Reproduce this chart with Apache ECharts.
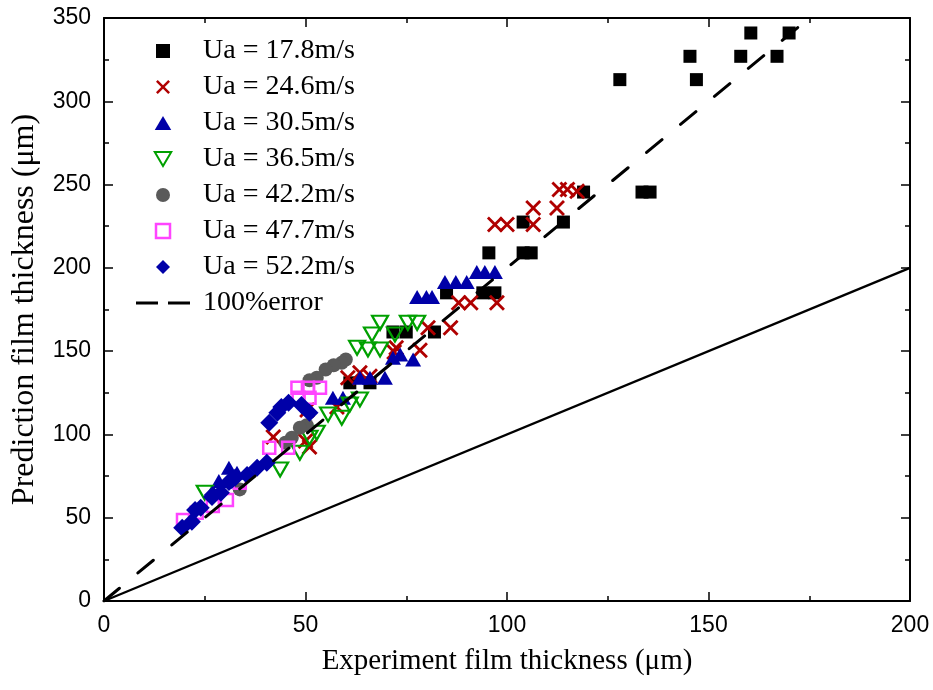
<!DOCTYPE html>
<html>
<head>
<meta charset="utf-8">
<script src="https://cdn.jsdelivr.net/npm/echarts@6/dist/echarts.min.js"></script>
<style>
  html, body { margin: 0; padding: 0; background: #fff; }
  #myChart { width: 933px; height: 690px; }
</style>
</head>
<body>
<div id="myChart"></div>
<script type="text/javascript">
// 数据 [experiment, prediction]
var ua178 = [[170,341],[160.5,341],[145.4,327],[158,327],[167,327],[128,313],[147,313],[119,245.5],[133.5,245.5],[135.5,245.5],[104,227.5],[114,227.5],[95.5,209],[104,209],[106,209],[85,185],[94,185],[97,185],[82,161.5],[75,161.5],[71.7,161.5],[61,131],[66,131]];
var ua246 = [[115,247],[117.4,246],[113,247],[112.4,236],[106.5,236],[97,226],[100,226],[106.5,226],[88,179],[91,179],[97.5,179],[86,164],[80.4,164],[78.4,150.6],[72.5,152],[72,149.5],[60.5,134],[63.5,137],[66,135],[57.8,116.5],[50.4,114.6],[50,96],[42,98.5],[51,92.5]];
var ua305 = [[92.5,197.5],[94.5,197.5],[97,197.5],[84.6,191.5],[87.3,191.5],[90,191.5],[77.7,182.5],[80,182.5],[81.4,182.5],[71.7,146],[73.5,148],[76.7,145],[63.5,134],[66,134],[69.7,134],[56.8,122],[59.3,122],[31,80],[33,77],[28.5,72]];
var ua365 = [[68.5,167],[75.4,167],[77.7,167],[66.5,160],[72.2,160],[62.8,152],[65.5,151],[68.5,151],[63.5,121],[61,118],[55.6,112],[59,110],[52.8,101],[51,98],[48.6,89],[43.7,79],[25,65]];
var ua422 = [[60,145],[59,143],[57,141.5],[55,139],[52.8,134],[51,132.5],[50.3,105.5],[48.6,104],[46.6,98],[45,95],[33.7,67]];
var ua477 = [[48,128],[50.6,128],[53.6,128],[48.3,122],[51,122],[41,92],[45.7,92],[33.7,71],[30.5,60.6],[23,53],[19.6,48.6],[27,57]];
var ua522 = [[41,107],[43,113],[44,116.5],[45.8,119],[49,117.6],[51,113],[40.4,83],[38,80],[35.5,75.6],[32.5,74],[31,71.5],[27,63.6],[29,65],[31.7,72.6],[26.8,62.4],[22.6,54.6],[21.8,47.6],[19.4,44],[24,56]];
var errLine = [[0,0],[175,350]];   // 100% error
var equalLine = [[0,0],[200,200]]; // y = x

var names = ['Ua = 17.8m/s','Ua = 24.6m/s','Ua = 30.5m/s','Ua = 36.5m/s','Ua = 42.2m/s','Ua = 47.7m/s','Ua = 52.2m/s','100%error'];

// 图例和散点用的路径符号
var crossPath = 'path://M0,2.5 L2.5,0 L10,7.5 L17.5,0 L20,2.5 L12.5,10 L20,17.5 L17.5,20 L10,12.5 L2.5,20 L0,17.5 L7.5,10 Z';
var downTri = 'path://M0,0 L20,0 L10,17 Z';
var upTri = 'path://M10,0 L20,17 L0,17 Z';
var squarePath = 'path://M0,0h10v10h-10z';
var circlePath = 'path://M10,0 A10,10 0 1,1 9.99,0 Z';
var diamondPath = 'path://M10,0 L20,10 L10,20 L0,10 Z';
var dashIcon = 'path://M0,0h22v3h-22z M32,0h22v3h-22z';

var myChart = echarts.init(document.getElementById('myChart'));

function boxAxis(pos, max, interval) {
	return {
		type: 'value', position: pos, min: 0, max: max, interval: interval,
		axisLine: { show: true, onZero: false, lineStyle: { color: '#000', width: 2 } },
		axisTick: { show: true, inside: true, length: 9, lineStyle: { color: '#000', width: 1.5 } },
		minorTick: { show: true, splitNumber: 2, length: 5, lineStyle: { color: '#000', width: 1.5 } },
		axisLabel: { show: false },
		splitLine: { show: false }
	};
}

var labelStyle = { color: '#000', fontFamily: 'Liberation Sans', fontSize: 23 };

var xMain = boxAxis('bottom', 200, 50);
xMain.axisLabel = Object.assign({ show: true, margin: 13 }, labelStyle);
xMain.name = 'Experiment film thickness (\u03bcm)';
xMain.nameLocation = 'middle';
xMain.nameGap = 46;
xMain.nameTextStyle = { color: '#000', fontFamily: 'Liberation Serif', fontSize: 29 };

var yMain = boxAxis('left', 350, 50);
yMain.axisLabel = Object.assign({ show: true, margin: 13 }, labelStyle);
yMain.name = 'Prediction film thickness (\u03bcm)';
yMain.nameLocation = 'middle';
yMain.nameGap = 63;
yMain.nameTextStyle = { color: '#000', fontFamily: 'Liberation Serif', fontSize: 32 };

var xTop = boxAxis('top', 200, 50);
var yRight = boxAxis('right', 350, 50);

var option = {
	backgroundColor: '#fff',
	animation: false,
	grid: { left: 104, right: 23, top: 18, bottom: 89, containLabel: false },
	xAxis: [xMain, xTop],
	yAxis: [yMain, yRight],
	legend: {
		orient: 'vertical',
		left: 131, top: 32,
		itemWidth: 54, itemHeight: 14, itemGap: 8, symbolKeepAspect: true,
		textStyle: { color: '#000', fontFamily: 'Liberation Serif', fontSize: 28, lineHeight: 28, padding: [0, 0, 0, 8] },
		data: [
			{ name: names[0], icon: squarePath },
			{ name: names[1], icon: crossPath },
			{ name: names[2], icon: upTri },
			{ name: names[3], icon: downTri, itemStyle: { color: '#fff', borderColor: '#00a000', borderWidth: 2 } },
			{ name: names[4], icon: circlePath },
			{ name: names[5], icon: squarePath, itemStyle: { color: '#fff', borderColor: '#ff44ff', borderWidth: 2.5 } },
			{ name: names[6], icon: diamondPath },
			{ name: names[7], icon: dashIcon }
		]
	},
	series: [
		{ name: names[0], type: 'scatter', data: ua178, symbol: 'rect', symbolSize: 13, itemStyle: { color: '#000', opacity: 1 } },
		{ name: names[1], type: 'scatter', data: ua246, symbol: crossPath, symbolSize: 16, itemStyle: { color: '#b00000', opacity: 1 } },
		{ name: names[2], type: 'scatter', data: ua305, symbol: upTri, symbolSize: [16, 14], itemStyle: { color: '#0000a8', opacity: 1 } },
		{ name: names[3], type: 'scatter', data: ua365, symbol: downTri, symbolSize: [16, 14], itemStyle: { color: 'transparent', borderColor: '#00a000', borderWidth: 2.2, opacity: 1 } },
		{ name: names[4], type: 'scatter', data: ua422, symbol: 'circle', symbolSize: 14, itemStyle: { color: '#5a5a5a', opacity: 1 } },
		{ name: names[5], type: 'scatter', data: ua477, symbol: 'rect', symbolSize: 12, itemStyle: { color: 'transparent', borderColor: '#ff44ff', borderWidth: 2.5, opacity: 1 } },
		{ name: names[6], type: 'scatter', data: ua522, symbol: diamondPath, symbolSize: 18, itemStyle: { color: '#0000a8', opacity: 1 } },
		{ name: names[7], type: 'line', data: errLine, showSymbol: false, symbol: 'none', z: 5, color: '#000',
		  itemStyle: { color: '#000' },
		  lineStyle: { color: '#000', width: 3, type: [20, 24], cap: 'round' } },
		{ name: 'y=x', type: 'line', data: equalLine, showSymbol: false, symbol: 'none', z: 5,
		  lineStyle: { color: '#000', width: 2.3 } }
	]
};
myChart.setOption(option, true);
window.onresize = function () {
	myChart.resize();
};
</script>
</body>
</html>
